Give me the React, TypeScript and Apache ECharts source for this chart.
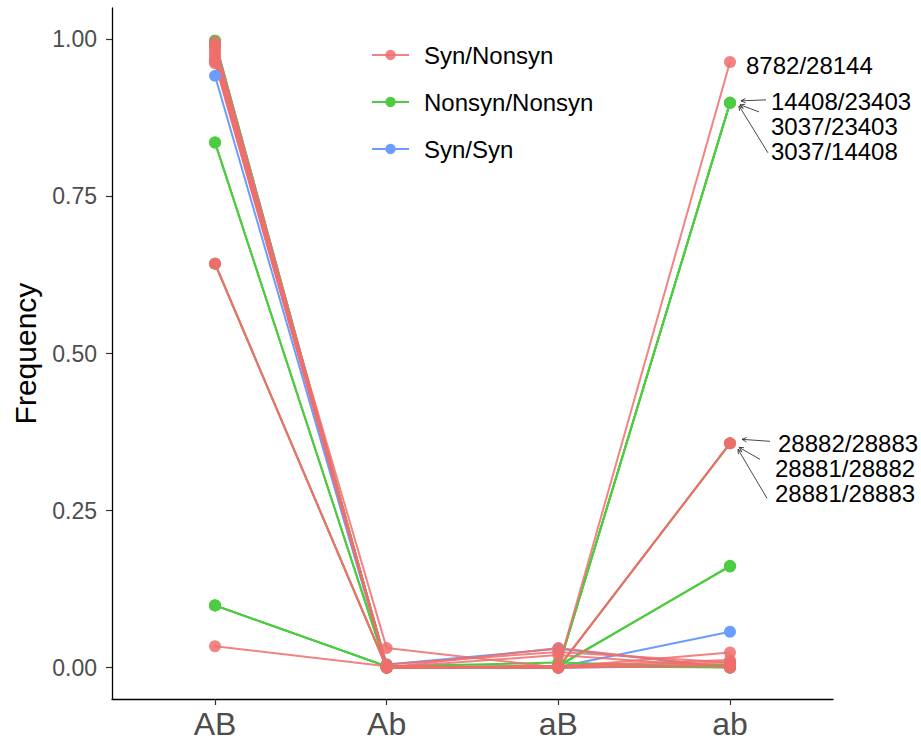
import React, { useEffect, useRef } from "react";
import * as echarts from "echarts";

const CATEGORIES = ["AB", "Ab", "aB", "ab"];
const TYPES = ["Syn/Nonsyn", "Nonsyn/Nonsyn", "Syn/Syn"];
const COLORS: Record<string, string> = {
  "Syn/Nonsyn": "#EE6E6C",
  "Nonsyn/Nonsyn": "#4DCB41",
  "Syn/Syn": "#6A9DFF",
};
const Y_TICKS = [0, 0.25, 0.5, 0.75, 1];

// Haplotype frequencies per site pair: [AB, Ab, aB, ab]
const SYN_SYN = [
  { pair: "", freq: [0.942, 0.0, 0.001, 0.057] },
  { pair: "", freq: [0.965, 0.005, 0.03, 0.0] },
  { pair: "", freq: [0.998, 0.0, 0.0, 0.002] },
];
const NONSYN_NONSYN = [
  { pair: "14408/23403", freq: [0.099, 0.002, 0.0, 0.899] },
  { pair: "3037/23403", freq: [0.099, 0.002, 0.0, 0.899] },
  { pair: "3037/14408", freq: [0.099, 0.002, 0.0, 0.899] },
  { pair: "28881/28883", freq: [0.643, 0.0, 0.0, 0.357] },
  { pair: "", freq: [0.836, 0.0, 0.002, 0.162] },
  { pair: "", freq: [0.836, 0.0, 0.003, 0.161] },
  { pair: "", freq: [0.998, 0.0, 0.002, 0.0] },
  { pair: "", freq: [0.99, 0.002, 0.008, 0.0] },
  { pair: "", freq: [0.995, 0.0, 0.0, 0.005] },
];
const SYN_NONSYN = [
  { pair: "8782/28144", freq: [0.034, 0.002, 0.0, 0.964] },
  { pair: "28882/28883", freq: [0.643, 0.0, 0.0, 0.357] },
  { pair: "28881/28882", freq: [0.643, 0.0, 0.0, 0.357] },
  { pair: "", freq: [0.966, 0.031, 0.0, 0.003] },
  { pair: "", freq: [0.969, 0.0, 0.031, 0.0] },
  { pair: "", freq: [0.975, 0.0, 0.001, 0.024] },
  { pair: "", freq: [0.985, 0.0, 0.003, 0.012] },
  { pair: "", freq: [0.962, 0.005, 0.025, 0.008] },
  { pair: "", freq: [0.99, 0.0, 0.002, 0.008] },
  { pair: "", freq: [0.996, 0.001, 0.0, 0.003] },
  { pair: "", freq: [0.98, 0.0, 0.02, 0.0] },
];

const FONT = "Liberation Sans, Arial, Helvetica, sans-serif";

function makeSeries(type: string, rows: { pair: string; freq: number[] }[], opacity: number) {
  return rows.map((r) => ({
    type: "line",
    name: type,
    data: r.freq.map((v, i) => [i, v]),
    symbol: "circle",
    symbolSize: 12,
    showSymbol: true,
    color: COLORS[type],
    lineStyle: { width: 2, color: COLORS[type], opacity },
    itemStyle: { color: COLORS[type], opacity },
    emphasis: { disabled: true },
    z: 2,
  }));
}

function arrow(sx: number, sy: number, ex: number, ey: number) {
  const ang = Math.atan2(ey - sy, ex - sx);
  const L = 5;
  const a1 = ang + Math.PI - 0.45;
  const a2 = ang + Math.PI + 0.45;
  return [
    {
      type: "line",
      shape: { x1: sx, y1: sy, x2: ex, y2: ey },
      style: { stroke: "#333333", lineWidth: 0.9 },
      silent: true,
    },
    {
      type: "polyline",
      shape: {
        points: [
          [ex + L * Math.cos(a1), ey + L * Math.sin(a1)],
          [ex, ey],
          [ex + L * Math.cos(a2), ey + L * Math.sin(a2)],
        ],
      },
      style: { stroke: "#333333", lineWidth: 0.9, fill: null },
      silent: true,
    },
  ];
}

function label(x: number, y: number, text: string) {
  return {
    type: "text",
    x,
    y,
    style: {
      text,
      fill: "#000000",
      font: `24px ${FONT}`,
      textAlign: "left",
      textVerticalAlign: "middle",
    },
    silent: true,
  };
}

export default function App() {
  const ref = useRef<HTMLDivElement>(null);
  useEffect(() => {
    if (!ref.current) return;
    const chart = echarts.init(ref.current, undefined, { renderer: "svg" });
    const series = [
      ...makeSeries("Syn/Syn", SYN_SYN, 1),
      ...makeSeries("Nonsyn/Nonsyn", NONSYN_NONSYN, 1),
      ...makeSeries("Syn/Nonsyn", SYN_NONSYN, 0.85),
    ];
    chart.setOption({
      animation: false,
      backgroundColor: "#ffffff",
      grid: { left: 112, right: 88, top: 8, bottom: 43, containLabel: false },
      legend: {
        data: TYPES,
        orient: "vertical",
        left: 366,
        top: 38,
        itemWidth: 37,
        itemHeight: 13,
        itemGap: 23,
        textStyle: { fontSize: 24, fontFamily: FONT, color: "#000000", padding: [0, 0, 0, 10] },
        selectedMode: false,
      },
      xAxis: {
        type: "value",
        min: -0.6,
        max: 3.6,
        splitLine: { show: false },
        axisLine: { show: true, onZero: false, lineStyle: { color: "#000000", width: 1.3 } },
        axisTick: {
          show: true,
          length: 6,
          customValues: [0, 1, 2, 3],
          lineStyle: { color: "#333333", width: 1.2 },
        },
        axisLabel: {
          customValues: [0, 1, 2, 3],
          formatter: (v: number) => CATEGORIES[Math.round(v)] ?? "",
          fontSize: 32,
          fontFamily: FONT,
          color: "#4D4D4D",
          margin: 9,
        },
      },
      yAxis: {
        type: "value",
        min: -0.05,
        max: 1.05,
        name: "Frequency",
        nameLocation: "middle",
        nameRotate: 90,
        nameGap: 72,
        nameTextStyle: { fontSize: 30, fontFamily: FONT, color: "#000000" },
        splitLine: { show: false },
        axisLine: { show: true, onZero: false, lineStyle: { color: "#000000", width: 1.3 } },
        axisTick: {
          show: true,
          length: 6,
          customValues: Y_TICKS,
          lineStyle: { color: "#333333", width: 1.2 },
        },
        axisLabel: {
          customValues: Y_TICKS,
          formatter: (v: number) => v.toFixed(2),
          fontSize: 23,
          fontFamily: FONT,
          color: "#4D4D4D",
          margin: 15,
        },
      },
      series,
    });

    const p1 = chart.convertToPixel({ gridIndex: 0 }, [3, SYN_NONSYN[0].freq[3]]) as number[];
    const p2 = chart.convertToPixel({ gridIndex: 0 }, [3, NONSYN_NONSYN[0].freq[3]]) as number[];
    const p3 = chart.convertToPixel({ gridIndex: 0 }, [3, SYN_NONSYN[1].freq[3]]) as number[];
    const g: any[] = [];
    g.push(label(p1[0] + 16, p1[1] + 3, SYN_NONSYN[0].pair));
    g.push(label(p2[0] + 41, p2[1] - 1, NONSYN_NONSYN[0].pair));
    g.push(label(p2[0] + 41, p2[1] + 24, NONSYN_NONSYN[1].pair));
    g.push(label(p2[0] + 41, p2[1] + 49, NONSYN_NONSYN[2].pair));
    g.push(...arrow(p2[0] + 36, p2[1] - 3, p2[0] + 11, p2[1] - 2));
    g.push(...arrow(p2[0] + 29, p2[1] + 9, p2[0] + 10, p2[1] + 2));
    g.push(...arrow(p2[0] + 38, p2[1] + 50, p2[0] + 9, p2[1] + 3));
    g.push(label(p3[0] + 48, p3[1], SYN_NONSYN[1].pair));
    g.push(label(p3[0] + 45, p3[1] + 25, SYN_NONSYN[2].pair));
    g.push(label(p3[0] + 45, p3[1] + 50, NONSYN_NONSYN[3].pair));
    g.push(...arrow(p3[0] + 40, p3[1] - 2, p3[0] + 12, p3[1] - 4));
    g.push(...arrow(p3[0] + 30, p3[1] + 16, p3[0] + 9, p3[1] + 4));
    g.push(...arrow(p3[0] + 37, p3[1] + 55, p3[0] + 8, p3[1] + 6));
    chart.setOption({ graphic: g });

    return () => chart.dispose();
  }, []);
  return (
    <div
      ref={ref}
      style={{ position: "absolute", left: 0, top: 0, width: 921, height: 742 }}
    />
  );
}
